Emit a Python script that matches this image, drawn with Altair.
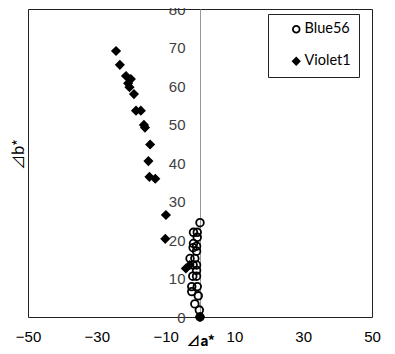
import altair as alt
import pandas as pd

series_names = ["Blue56", "Violet1"]

blue_a = [0.0, -1.9, -0.8, -0.8, -1.9, -1.0, -2.0, -1.0, -2.9, -1.5, -1.0, -2.0, -1.0, -2.1, -1.0, -2.4, -0.8, -2.4, -0.5, -1.5, -0.2, 0.0]
blue_b = [24.5, 22.0, 22.0, 20.7, 19.1, 18.4, 18.0, 17.1, 15.2, 15.2, 13.5, 13.5, 12.1, 10.6, 10.6, 7.9, 7.9, 6.6, 5.5, 3.4, 1.8, 0.0]

violet_a = [-24.4, -23.3, -21.5, -20.1, -20.9, -20.5, -19.2, -18.6, -17.2, -16.3, -16.0, -14.5, -15.0, -14.7, -13.0, -9.9, -10.1, -4.1, -3.0, 0.0]
violet_b = [69.1, 65.5, 62.6, 61.8, 60.7, 59.7, 57.9, 53.6, 53.6, 49.9, 49.2, 44.8, 40.5, 36.4, 35.9, 26.5, 20.3, 12.6, 13.5, 0.0]

x_ticks = [-50, -30, -10, 10, 30, 50]
y_ticks = [0, 10, 20, 30, 40, 50, 60, 70, 80]

rows = []
for a, b in zip(violet_a, violet_b):
    rows.append({"a": a, "b": b, "series": series_names[1]})
for a, b in zip(blue_a, blue_b):
    rows.append({"a": a, "b": b, "series": series_names[0]})
df = pd.DataFrame(rows)
df["order"] = range(len(df))

W, H = 344, 308

legend_def = alt.Legend(title=None)

chart = alt.Chart(df).mark_point(
    strokeWidth=1.8, opacity=1, size=58
).encode(
    x=alt.X("a:Q", scale=alt.Scale(domain=[-50, 50], nice=False, zero=False),
            axis=alt.Axis(values=x_ticks, ticks=False, domain=False, grid=False,
                          labelFlush=False, labelBound=False,
                          labelFontSize=15, labelFont="Liberation Sans", labelColor="black",
                          labelPadding=12, title="⊿a*", titleFontSize=14,
                          titleFont="Noto Sans CJK JP", titleFontWeight="bold",
                          titleColor="black", titleBaseline="alphabetic",
                          titleX=W / 2, titleY=28)),
    y=alt.Y("b:Q", scale=alt.Scale(domain=[0, 80], nice=False),
            axis=alt.Axis(values=y_ticks, ticks=False, grid=False, offset=-W / 2,
                          domainColor="#999999", domainWidth=1,
                          labelFontSize=15, labelFont="Liberation Sans", labelColor="#404040",
                          labelPadding=15, title="⊿b*", titleFontSize=15,
                          titleFont="Noto Sans CJK JP", titleFontWeight="normal",
                          titleColor="black", titleBaseline="middle",
                          titleX=-182, titleY=145, titleAngle=-90)),
    shape=alt.Shape("series:N", scale=alt.Scale(domain=series_names, range=["circle", "diamond"]),
                    legend=legend_def),
    fill=alt.Fill("series:N", scale=alt.Scale(domain=series_names, range=["transparent", "black"]),
                  legend=legend_def),
    stroke=alt.Stroke("series:N", scale=alt.Scale(domain=series_names, range=["black", "black"]),
                      legend=legend_def),
    order=alt.Order("order:Q"),
).properties(
    width=W, height=H,
    autosize=alt.AutoSizeParams(type="none"),
    padding={"left": 20, "top": 1, "right": 15, "bottom": 29},
).configure_view(
    stroke="#222222", strokeWidth=1
).configure_legend(
    orient="none", legendX=240, legendY=5,
    padding=8, strokeColor="#222222", fillColor="white",
    symbolOffset=13, labelOffset=1, rowPadding=16,
    labelFontSize=14.5, labelFont="Lato", labelColor="black",
    symbolSize=45, symbolStrokeWidth=1.8,
)

chart.save("out.html", embed_options={"renderer": "svg", "actions": False})
